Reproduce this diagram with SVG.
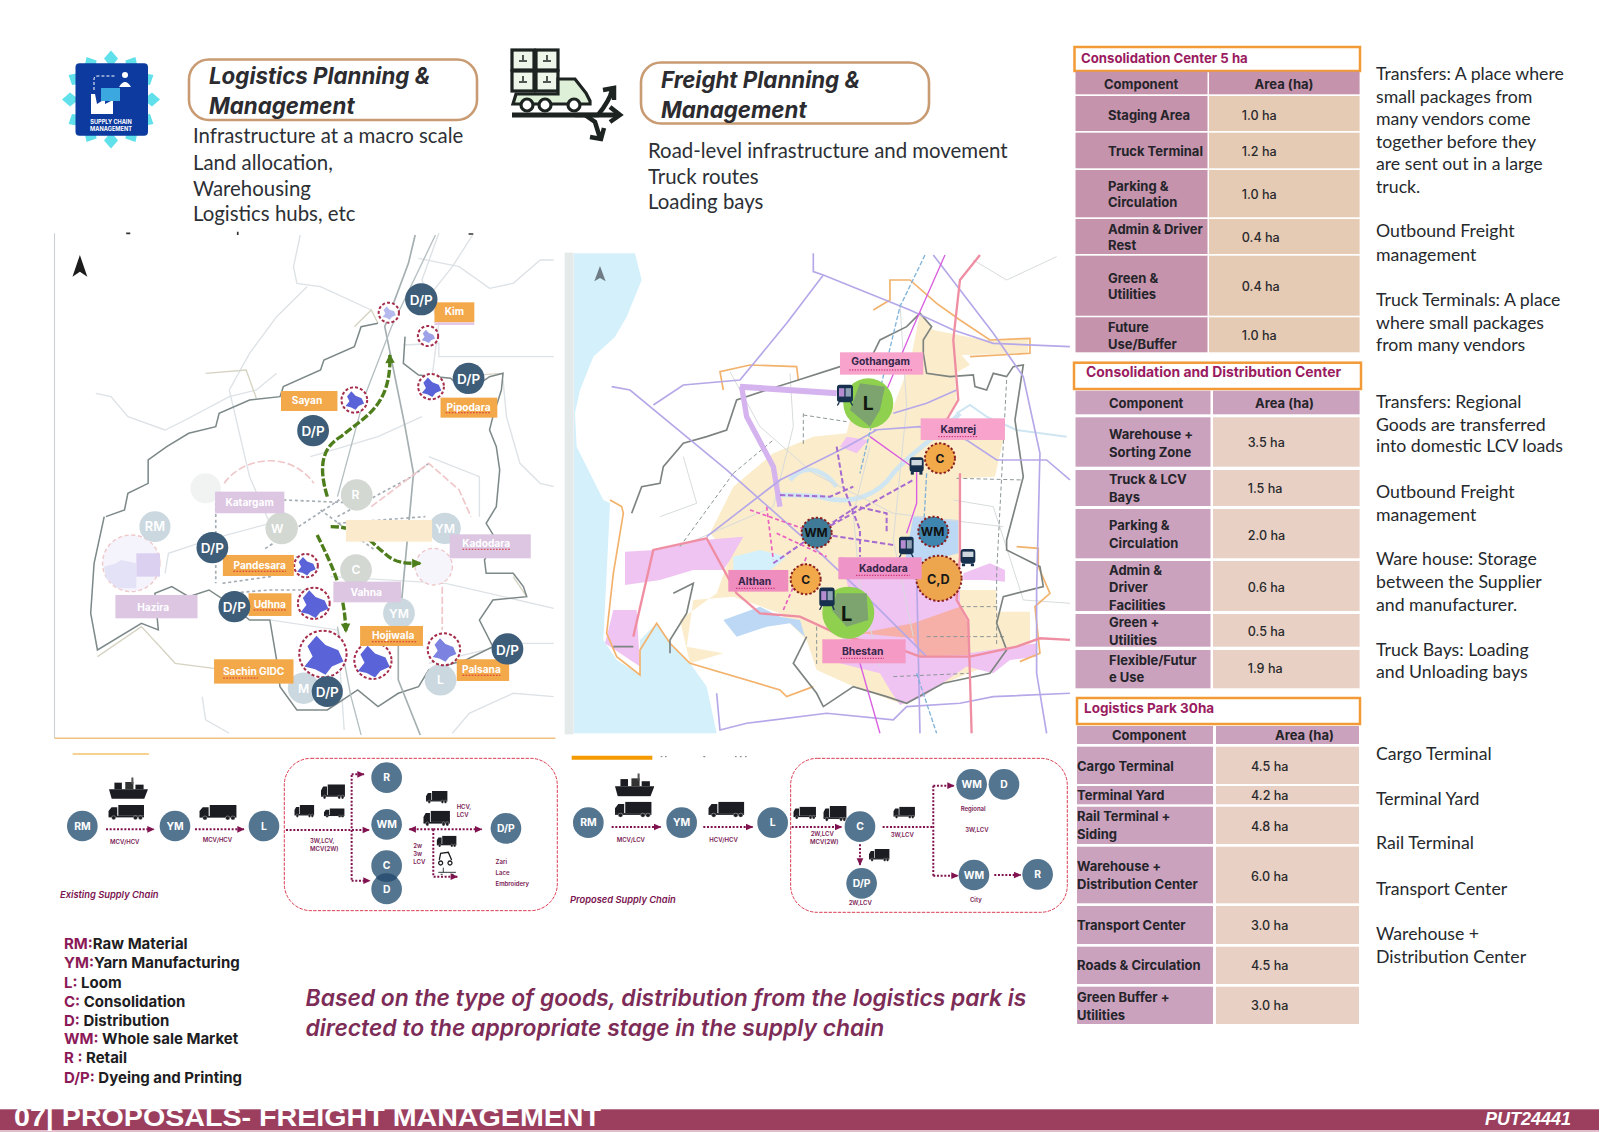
<svg xmlns="http://www.w3.org/2000/svg" width="1600" height="1132" viewBox="0 0 1600 1132">
<style>
text{font-family:"Inter","Liberation Sans",sans-serif}
.body{font-family:"Lato","Open Sans",sans-serif;font-size:20.4px;fill:#2c3035}
.side{font-family:"Lato","Open Sans",sans-serif;font-size:17.7px;fill:#26292d}
.hd{font-size:22.3px;font-weight:700;font-style:italic;fill:#2c2c30}
.hbox{fill:#fff;stroke:#c99b73;stroke-width:2.6}
.tbox{fill:#fff;stroke:#f29a35;stroke-width:2.5}
.tt{font-size:13.2px;font-weight:700;fill:#9a1b60}
.tl{font-size:13px;font-weight:700;fill:#24242a}
.ta{font-size:12.6px;font-weight:500;fill:#2a2a2e}
.lc{fill:#c593ab}.rc{fill:#e6cbb4}
.lc2{fill:#cba2bd}.rc2{fill:#e8d1c4}
.lg{font-size:15px;font-weight:700;fill:#1d1d22}
.lgp{fill:#8c1a58}
.big{font-size:22.85px;font-weight:600;font-style:italic;fill:#7d2c57}
.road{fill:none;stroke:#dde2e6;stroke-width:4}
.hw{fill:none;stroke:#a5afb1;stroke-width:5}
.bnd{fill:none;stroke:#7d8888;stroke-width:4.5}
.tan{fill:none;stroke:#d6d3c2;stroke-width:4}
.dg{fill:none;stroke:#a4adb4;stroke-width:5;stroke-dasharray:9 8}
.pk{fill:none;stroke:#efc7c9;stroke-width:5;stroke-dasharray:22 8}
.gr{fill:none;stroke:#4e7d1b;stroke-width:10;stroke-dasharray:24 7}
.dp{fill:#3d5d78}.ft{fill:#d3d8d3}.ft2{fill:#cbd8df}
.ct{fill:#fff;font-weight:600;text-anchor:middle}
.or{fill:#f3a84a}.pu{fill:#dcc6e2}
.ml{fill:#fff;font-size:30px;font-weight:700;text-anchor:middle}
.sq{stroke:#d5323a;stroke-width:3;stroke-dasharray:5 4;fill:none}
.ring{fill:#fff;stroke:#a52c4a;stroke-width:6;stroke-dasharray:9 6}
.blob{fill:#5b63d8}
.la{fill:none;stroke:#b6a8e8;stroke-width:5}
.ob{fill:none;stroke:#f2b26c;stroke-width:5}
.db{fill:none;stroke:#7d8480;stroke-width:5}
.rr{fill:none;stroke:#d7dbdc;stroke-width:3}
.pr{fill:none;stroke:#ef8ea3;stroke-width:7}
.mg{fill:none;stroke:#d95de0;stroke-width:4}
.bd{fill:none;stroke:#7fb3d9;stroke-width:4;stroke-dasharray:14 6}
.pd{fill:none;stroke:#a66ad0;stroke-width:6;stroke-dasharray:16 8}
.pd2{fill:none;stroke:#ea60c0;stroke-width:5;stroke-dasharray:12 8}
.gd{fill:none;stroke:#8c9698;stroke-width:3;stroke-dasharray:12 8}
.hub{stroke:#8a1f20;stroke-width:6;stroke-dasharray:7 6}
.pl{fill:#f7a3cc}
.pt{fill:#35254a;font-size:31px;font-weight:700;text-anchor:middle}
.sq2{stroke:#c0206a;stroke-width:3;stroke-dasharray:4 4;fill:none}
.cn{fill:#54758f}
.cnt{fill:#fff;font-size:31px;font-weight:700;text-anchor:middle}
.dash{fill:none;stroke:#d93a4f;stroke-width:3;stroke-dasharray:10 4}
.ar{fill:none;stroke:#80124f;stroke-width:6;stroke-dasharray:6 5}
.arh{fill:none;stroke:#80124f;stroke-width:6;stroke-dasharray:6 5;marker-end:url(#ah)}
.sl{fill:#7a1a55;font-size:18px;font-weight:600}
.cap{fill:#7a1450;font-size:28px;font-weight:600;font-style:italic}
.pet{fill:#5fe0ea}
</style>
<defs>
<marker id="ah" markerUnits="userSpaceOnUse" markerWidth="26" markerHeight="24" refX="22" refY="12" orient="auto"><path d="M2,2 L24,12 L2,22Z" fill="#80124f"/></marker>
<marker id="ga" markerUnits="userSpaceOnUse" markerWidth="36" markerHeight="36" refX="26" refY="18" orient="auto"><path d="M2,4 L30,18 L2,32Z" fill="#4e7d1b"/></marker>
<path id="blob" d="M-.6,-.3 L-.25,-.72 L.1,-.35 L.6,-.15 L.8,.3 L.35,.5 L.1,.82 L-.3,.6 L-.72,.5 L-.4,.1Z"/>
<path id="petal" d="M0,-49 L7,-41 L0,-32 L-7,-41Z"/>
<symbol id="truck" viewBox="0 0 100 46" preserveAspectRatio="none"><rect x="28" width="72" height="33" fill="#1c1d22"/><path d="M0,34 L0,19 L9,7 L25,7 L25,34Z" fill="#1c1d22"/><rect y="33" width="100" height="5" fill="#1c1d22"/><circle cx="15" cy="39" r="6" fill="#1c1d22" stroke="#fff"/><circle cx="76" cy="39" r="6" fill="#1c1d22" stroke="#fff"/><circle cx="90" cy="39" r="6" fill="#1c1d22" stroke="#fff"/></symbol>
<symbol id="ship" viewBox="0 0 115 65" preserveAspectRatio="none"><path d="M0,36 L115,36 L104,64 L8,64Z" fill="#1c1d22"/><rect x="16" y="16" width="22" height="20" fill="#1c1d22"/><rect x="48" y="14" width="24" height="22" fill="#333"/><rect x="66" y="0" width="6" height="20" fill="#555"/><rect x="78" y="22" width="24" height="14" fill="#1c1d22"/></symbol>
<symbol id="train" viewBox="0 0 50 62" preserveAspectRatio="none"><rect x="1" y="2" width="48" height="50" rx="8" fill="#16304d"/><rect x="7" y="12" width="16" height="24" fill="#b58ccf"/><rect x="27" y="12" width="16" height="24" fill="#8fa3b5"/><path d="M8,52 L2,62 M42,52 L48,62" stroke="#16304d" stroke-width="4"/></symbol>
<symbol id="bus" viewBox="0 0 50 55" preserveAspectRatio="none"><rect x="2" y="2" width="46" height="44" rx="10" fill="#16304d"/><rect x="8" y="10" width="34" height="16" fill="#cfd8de"/><rect x="6" y="46" width="10" height="8" fill="#16304d"/><rect x="34" y="46" width="10" height="8" fill="#16304d"/></symbol>
</defs>
<rect width="1600" height="1132" fill="#fff"/>

<g id="logo">
<g transform="translate(111 99.5)">
<use class="pet" href="#petal"/><use class="pet" href="#petal" transform="rotate(30)"/><use class="pet" href="#petal" transform="rotate(60)"/><use class="pet" href="#petal" transform="rotate(90)"/><use class="pet" href="#petal" transform="rotate(120)"/><use class="pet" href="#petal" transform="rotate(150)"/><use class="pet" href="#petal" transform="rotate(180)"/><use class="pet" href="#petal" transform="rotate(210)"/><use class="pet" href="#petal" transform="rotate(240)"/><use class="pet" href="#petal" transform="rotate(270)"/><use class="pet" href="#petal" transform="rotate(300)"/><use class="pet" href="#petal" transform="rotate(330)"/>
</g>
<rect x="75.5" y="63.3" width="72.5" height="72.4" rx="4" fill="#0d3a9e"/>
<path d="M91,114 L91,94 L95,94 L97,104 L105,99 L105,104 L113,100 L113,114Z" fill="#fff"/>
<rect x="101" y="88" width="19" height="13" fill="#3ba9e0"/>
<circle cx="125" cy="75" r="3" fill="#fff"/><path d="M119,87 Q125,77 131,87Z" fill="#fff"/>
<path d="M94,90 L94,79 Q94,76 98,76 L116,76" fill="none" stroke="#fff" stroke-width="1" stroke-dasharray="3 2"/>
<text x="111" y="124" text-anchor="middle" font-size="5.6" font-weight="700" fill="#fff">SUPPLY CHAIN</text>
<text x="111" y="131" text-anchor="middle" font-size="5.6" font-weight="700" fill="#fff">MANAGEMENT</text>
</g>

<g id="head-logistics">
<rect class="hbox" x="189" y="59.5" width="288" height="60.5" rx="20"/>
<text class="hd" x="209" y="84">Logistics Planning &amp;</text>
<text class="hd" x="209" y="113.5">Management</text>
<text class="body" x="193" y="143.3">Infrastructure at a macro scale</text>
<text class="body" x="193" y="170">Land allocation,</text>
<text class="body" x="193" y="195.7">Warehousing</text>
<text class="body" x="193" y="221">Logistics hubs, etc</text>
</g>

<g id="truck-icon" fill="none" stroke="#1c2320" stroke-width="3.2">
<rect x="512" y="50" width="22" height="20" fill="#eef6ea"/><rect x="536" y="50" width="22" height="20" fill="#eef6ea"/>
<rect x="512" y="71" width="22" height="20" fill="#eef6ea"/><rect x="536" y="71" width="22" height="20" fill="#eef6ea"/>
<path d="M519,61h8M543,61h8M519,82h8M543,82h8M523,55v5M547,55v5M523,76v5M547,76v5" stroke-width="1.5"/>
<path d="M558,79 L575,79 L586,93 L590,101 L590,104 L513,104 L516,94 L558,94Z" fill="#dff0d8"/>
<circle cx="527" cy="105" r="6" fill="#fff"/><circle cx="545" cy="105" r="6" fill="#fff"/><circle cx="574" cy="105" r="6" fill="#fff"/>
<path d="M512,115 L618,115" stroke-width="5"/>
<path d="M575,115 L598,115 Q610,100 612,90 M603,90 L614,88 L614,100" stroke-width="4.5"/>
<path d="M610,107 L620,115 L610,122" stroke-width="4.5"/>
<path d="M585,115 L595,122 L600,138 M590,137 L601,139 L604,128" stroke-width="4.5"/>
</g>

<g id="head-freight">
<rect class="hbox" x="641" y="62.5" width="288" height="61" rx="20"/>
<text class="hd" x="661" y="88">Freight Planning &amp;</text>
<text class="hd" x="661" y="118">Management</text>
<text class="body" x="648" y="158">Road-level infrastructure and movement</text>
<text class="body" x="648" y="183.5">Truck routes</text>
<text class="body" x="648" y="209">Loading bays</text>
</g>

<g id="map-logistics" transform="translate(40 230) scale(.338 .3333)">
<path d="M43,10V1525" stroke="#c9cfd2" stroke-width="3"/>
<path d="M43,1525H1525" stroke="#f0c080" stroke-width="5"/>
<path d="M255,10h12M585,5v10M1268,12h14" stroke="#333" stroke-width="5"/>
<g class="roads">
<path class="road" d="M770,15 L750,110 L760,160 L830,170 L980,240"/>
<path class="road" d="M1120,85 L1240,110 L1330,175 L1400,160 L1480,90 L1520,90"/>
<path class="road" d="M165,490 L210,500 L260,560 L370,600 L430,570 L560,500 L640,480 L700,430"/>
<path class="road" d="M790,170 L700,260 L620,370 L560,480 L620,740 L680,880"/>
<path class="road" d="M1180,10 L1130,150 L1180,280 L1160,440"/>
<path class="road" d="M1280,15 L1220,110 L1150,200"/>
<path class="road" d="M1075,345 L1180,340 L1180,380 L1520,380"/>
<path class="road" d="M1370,450 L1380,560 L1420,700 L1480,760 L1520,770"/>
<path class="road" d="M800,680 L1000,620 L1130,560"/>
<path class="road" d="M680,880 L500,930 L380,970 L370,1030"/>
<path class="road" d="M860,1040 L1200,1060 L1520,1135"/>
<path class="road" d="M1150,1300 L1400,1240 L1520,1240"/>
<path class="road" d="M480,1400 L490,1470 L560,1510"/>
<path class="road" d="M1220,1510 L1270,1450 L1400,1390 L1520,1400"/>
<path class="road" d="M680,1170 L880,1200 L900,1500"/>
<path class="road" d="M1150,680 L1300,740 L1300,860"/>
<path class="tan" d="M490,430 L610,420 L640,505"/>
<path class="tan" d="M930,290 L980,240 L1000,280"/>
<path class="tan" d="M1220,440 L1370,430"/>
<path class="tan" d="M1440,1100 L1400,1040"/>
<path class="tan" d="M170,1280 L300,1190 L400,1300 L700,1340"/>
</g>
<path class="bnd" d="M195,860 L250,840 L260,790 L320,760 L320,690 L375,650 L440,610 L520,590 L530,550 L620,510 L710,500 L720,470 L830,420 L840,390 L930,350 L950,290 L1000,280"/>
<path class="bnd" d="M1080,320 L1075,400 L1120,435 L1215,445 L1260,490 L1330,440 L1370,430 L1365,480 L1340,560 L1330,600 L1350,650 L1360,720 L1350,830 L1320,880 L1350,930 L1315,990 L1320,1030 L1400,1030 L1430,1070 L1440,1100 L1340,1110 L1300,1170 L1340,1250 L1260,1290 L1150,1320 L1120,1370 L1060,1390 L1000,1430 L940,1380 L880,1420 L850,1440 L760,1440 L710,1370 L700,1290 L680,1170 L620,1170 L560,1120 L500,1080 L440,1100 L390,1070 L340,1090 L350,1200 L300,1180 L170,1260 L150,1150 L160,1000 L190,860"/>
<path class="hw" d="M1110,15 L1090,100 L1020,290 L1080,590 L1105,730 L1060,1220 L1060,1350 L1125,1515"/>
<path d="M1170,15 L1040,290 L960,500 L880,800" fill="none" stroke="#b5bfc2" stroke-width="4"/>
<path d="M880,1190 L920,1400 L950,1515" fill="none" stroke="#b5bfc2" stroke-width="4"/>
<path class="dg" d="M720,810 L960,820"/><path class="dg" d="M880,880 L1140,860"/><path class="dg" d="M540,1060 L680,1040 L760,980"/><path class="dg" d="M560,1090 L680,1080 L790,1080"/><path class="dg" d="M900,800 L660,960"/><path class="dg" d="M830,840 L990,960"/><path class="dg" d="M520,750 L520,1060"/><path class="dg" d="M1150,700 L1100,740 L880,860"/>
<path class="pk" d="M545,760 C600,680 740,660 810,760"/>
<path class="pk" d="M980,830 L1150,700 L1240,780 L1275,860"/>
<path class="pk" d="M1190,1040 L1190,1200"/>
<circle cx="1165" cy="1010" r="55" fill="#f7f5fc" stroke="#efc7c9" stroke-width="4" stroke-dasharray="12 8"/>
<g id="faded-left">
<circle cx="270" cy="1000" r="85" fill="#f5f3fb" stroke="#efc7c9" stroke-width="4" stroke-dasharray="12 8"/>
<rect x="285" y="970" width="70" height="70" fill="#dcd0f0"/>
<path d="M190,1010 L225,1000 L240,990 L285,1000 L285,1075 L230,1075 L195,1045Z" fill="#e3e2f6"/>
</g>
<path class="gr" d="M850,800 C820,700 840,650 890,620 C960,560 1040,530 1035,375" marker-end="url(#ga)"/>
<path class="gr" d="M860,890 C950,890 970,930 1020,970 C1050,1000 1080,1000 1125,1000" marker-end="url(#ga)"/>
<path class="gr" d="M820,915 C870,1020 900,1080 905,1205" marker-end="url(#ga)"/>
<g id="m1-faded">
<circle cx="490" cy="775" r="45" fill="#f1f3f3"/>
<circle class="ft" cx="937" cy="795" r="47"/><text class="ct" x="933" y="808" font-size="36">R</text>
<circle class="ft" cx="715" cy="895" r="48"/><text class="ct" x="702" y="908" font-size="36">W</text>
<circle class="ft" cx="935" cy="1020" r="47"/><text class="ct" x="935" y="1033" font-size="36">C</text>
<circle class="ft2" cx="340" cy="890" r="46"/><text class="ct" x="340" y="904" font-size="38">RM</text>
<circle class="ft2" cx="1198" cy="895" r="47"/><text class="ct" x="1198" y="908" font-size="36">YM</text>
<circle class="ft2" cx="1062" cy="1150" r="47"/><text class="ct" x="1062" y="1163" font-size="36">YM</text>
<circle class="ft2" cx="1185" cy="1350" r="47"/><text class="ct" x="1185" y="1363" font-size="36">L</text>
<circle class="ft2" cx="780" cy="1375" r="47"/><text class="ct" x="780" y="1388" font-size="36">M</text>
</g>
<g id="m1-hubs">
<circle class="ring" cx="1032" cy="248" r="30"/><use class="blob" href="#blob" transform="translate(1032 248) scale(26)" opacity=".45"/>
<circle class="ring" cx="1148" cy="318" r="30"/><use class="blob" href="#blob" transform="translate(1148 318) scale(26)" opacity=".6"/>
<circle class="ring" cx="1157" cy="470" r="38"/><use class="blob" href="#blob" transform="translate(1157 470) scale(38)"/>
<circle class="ring" cx="930" cy="510" r="38"/><use class="blob" href="#blob" transform="translate(930 510) scale(36)"/>
<circle class="ring" cx="787" cy="1007" r="35"/><use class="blob" href="#blob" transform="translate(787 1007) scale(36)"/>
<circle class="ring" cx="810" cy="1120" r="47"/><use class="blob" href="#blob" transform="translate(810 1120) scale(54)"/>
<circle class="ring" cx="837" cy="1272" r="70"/><use class="blob" href="#blob" transform="translate(837 1272) scale(76)"/>
<circle class="ring" cx="985" cy="1292" r="55"/><use class="blob" href="#blob" transform="translate(985 1292) scale(62)"/>
<circle class="ring" cx="1195" cy="1258" r="48"/><use class="blob" href="#blob" transform="translate(1195 1258) scale(46)" opacity=".8"/>
</g>
<g id="m1-labels">
<rect class="or" x="1167" y="217" width="118" height="60"/><rect x="1167" y="277" width="118" height="8" fill="#e3c9e6"/><text class="ml" x="1226" y="256">Kim</text>
<rect class="or" x="713" y="483" width="167" height="60"/><text class="ml" x="790" y="523">Sayan</text>
<rect class="or" x="1185" y="503" width="168" height="60"/><text class="ml" x="1268" y="544">Pipodara</text><path class="sq" d="M1200,548H1335"/>
<rect class="or" x="541" y="975" width="210" height="63"/><text class="ml" x="650" y="1017">Pandesara</text><path class="sq" d="M572,1024H728"/>
<rect class="or" x="617" y="1090" width="127" height="68"/><text class="ml" x="680" y="1135">Udhna</text><path class="sq" d="M632,1140H728"/>
<rect class="or" x="947" y="1188" width="186" height="60"/><text class="ml" x="1045" y="1227">Hojiwala</text><path class="sq" d="M982,1235H1115"/>
<rect class="or" x="515" y="1288" width="235" height="73"/><text class="ml" x="632" y="1336">Sachin GIDC</text><path class="sq" d="M542,1344H645"/>
<rect class="or" x="1233" y="1288" width="155" height="65"/><text class="ml" x="1306" y="1330">Palsana</text><path class="sq" d="M1250,1336H1362"/>
<rect class="pu" x="518" y="785" width="205" height="65"/><text class="ml" x="620" y="827">Katargam</text>
<rect class="pu" x="1212" y="913" width="240" height="72"/><text class="ml" x="1320" y="950">Kadodara</text><path class="sq" d="M1250,958H1392"/>
<rect class="pu" x="223" y="1095" width="243" height="70"/><text class="ml" x="335" y="1143">Hazira</text>
<rect class="pu" x="868" y="1055" width="200" height="62"/><text class="ml" x="965" y="1098">Vahna</text>
<rect x="905" y="870" width="255" height="65" fill="#fbeacb"/>
</g>
<g id="m1-dp">
<circle class="dp" cx="1128" cy="208" r="48"/><text class="ct" x="1128" y="225" font-size="40">D/P</text>
<circle class="dp" cx="1268" cy="445" r="47"/><text class="ct" x="1268" y="462" font-size="40">D/P</text>
<circle class="dp" cx="808" cy="602" r="47"/><text class="ct" x="808" y="619" font-size="40">D/P</text>
<circle class="dp" cx="510" cy="953" r="47"/><text class="ct" x="510" y="970" font-size="40">D/P</text>
<circle class="dp" cx="575" cy="1130" r="47"/><text class="ct" x="575" y="1147" font-size="40">D/P</text>
<circle class="dp" cx="850" cy="1385" r="46"/><text class="ct" x="850" y="1402" font-size="40">D/P</text>
<circle class="dp" cx="1383" cy="1257" r="47"/><text class="ct" x="1383" y="1274" font-size="40">D/P</text>
</g>
<path d="M118,75 L140,140 L118,125 L96,140Z" fill="#1c1c1c"/>
</g>

<g id="map-freight" transform="translate(560 240) scale(.3333)">
<rect x="14" y="38" width="27" height="1445" fill="#e4e9e9"/>
<path d="M42,40 L225,40 L245,120 L200,230 L165,290 L100,350 L60,450 L45,520 L50,620 L90,700 L130,780 L150,790 L140,1000 L130,1200 L170,1260 L240,1305 L240,1200 L290,1150 L330,1210 L390,1270 L440,1340 L470,1480 L42,1480Z" fill="#d3f0fb"/>
<path d="M450,880 L520,740 L640,640 L760,590 L860,580 L870,540 L1000,500 L1050,370 L1080,220 L1120,270 L1270,300 L1405,295 L1405,340 L1205,345 L1230,375 L1185,400 L1190,490 L1160,530 L1330,600 L1305,710 L1200,715 L1200,1050 L1310,1050 L1310,1115 L1410,1115 L1410,1230 L1225,1300 L1060,1370 L1020,1390 L880,1340 L770,1290 L740,1200 L660,1120 L520,1070 L400,1080 L380,1220 L490,1240 L390,1270 L360,1140 L470,1060 L510,950Z" fill="#fbeccb"/>
<path d="M195,935 L285,930 L430,900 L550,890 L510,960 L490,990 L400,990 L300,1020 L195,1035Z" fill="#efc3f2"/>
<path d="M860,590 L925,600 L890,640 L840,620Z" fill="#efc3f2"/>
<path d="M840,950 L1200,1000 L1200,1100 L1225,1150 L1225,1240 L1430,1210 L1430,1250 L1350,1260 L1300,1300 L1220,1280 L1090,1370 L1020,1395 L990,1350 L960,1300 L840,1270 L800,1220 L900,1170Z" fill="#efc3f2"/>
<path d="M160,1110 L230,1110 L240,1280 L135,1210Z" fill="#efc3f2"/>
<path d="M1210,1000 L1290,970 L1335,990 L1335,1025 L1280,1020 L1210,1020Z" fill="#efc3f2"/>
<path d="M900,1180 L1060,1150 L1200,1100 L1225,1150 L1225,1245 L1080,1250 L1060,1195Z" fill="#f6b0a8"/>
<path d="M1060,830 L1195,840 L1195,940 L1080,970 L1035,960Z" fill="#bcd8f5"/>
<path d="M490,1140 L600,1100 L660,1130 L720,1140 L735,1190 L690,1150 L620,1160 L530,1190Z" fill="#bcd8f5"/>
<path d="M520,950 L600,930 L680,950 L620,1000 L520,990Z" fill="#d3f0fb"/>
<path d="M1200,520 C1120,600 1050,640 1000,700 C960,760 880,800 780,770 C700,760 660,770 650,760 M690,720 C740,660 800,700 830,740" fill="none" stroke="#cfe6f2" stroke-width="14"/>
<path d="M1190,520 L1230,495 L1280,530 L1370,570 L1520,590" fill="none" stroke="#cfe6f2" stroke-width="6"/>
<path class="rr" d="M510,395 L600,560 L760,700 L1000,820 L1330,860"/><path class="rr" d="M690,400 L700,560 L640,800"/><path class="rr" d="M930,620 L880,820 L900,1040 L960,1280"/><path class="rr" d="M360,920 L640,800"/><path class="rr" d="M370,650 L410,790 L300,830"/><path class="rr" d="M1020,190 L1040,500 L1000,900 L1060,1190"/><path class="rr" d="M1180,780 L1300,800 L1390,1080 L1530,1090"/><path class="rr" d="M1240,60 L1340,120 L1490,50"/>
<path class="gd" d="M360,920 L520,700 M520,700 L640,600"/><path class="gd" d="M1340,420 L1310,1000"/><path class="gd" d="M1190,715 L1390,720"/><path class="gd" d="M1100,1190 L1340,1190"/><path class="gd" d="M770,1160 L770,1280"/><path class="gd" d="M1000,1310 L1230,1300"/><path class="gd" d="M730,520 L730,620 M730,525 L860,545"/><path class="gd" d="M1200,1100 L1320,1100 M1310,1000 L1310,1220"/>
<path class="ob" d="M940,210 L990,180 L990,120 L1050,120 L1130,190 L1200,240 L1290,300 L1410,295 L1410,340 L1230,350"/>
<path class="ob" d="M490,450 L480,395 L570,375 L710,380 L715,420"/>
<path class="ob" d="M150,780 L185,800 L190,820 L160,1000 L140,1180 L170,1250 L240,1305 L240,1230 L290,1150 L330,1210 L390,1270 L660,1350 L680,1370 L760,1340"/>
<path class="ob" d="M1370,920 L1435,925 L1435,980 L1470,1060 L1425,1100 L1440,1240 L1380,1265"/>
<path class="db" d="M215,820 L245,740 L300,730 L310,680 L370,610 L440,590 L500,570 L530,480 L620,450 L715,420 L840,380 L940,340 L960,300 L1040,260 L1080,220 L1115,260 L1090,300 L1090,340 L1100,400 L1170,410 L1240,405 L1245,440 L1280,450 L1300,400 L1340,410 L1360,380 L1390,375 L1365,540 L1390,710 L1340,900 L1340,930 L1440,980 L1450,1040 L1330,1070 L1310,1150 L1340,1230 L1290,1300 L1150,1330 L1040,1390 L980,1370 L880,1340 L790,1400 L770,1360 L700,1270 L740,1190"/>
<path class="db" d="M340,1060 L400,1030 L380,1120 L330,1200 L330,1240 M160,1220 L220,1220"/>
<path d="M540,440 L830,460" fill="none" stroke="#d4b3ee" stroke-width="18"/>
<path d="M545,440 L560,530 L640,680 L660,800" fill="none" stroke="#d4b3ee" stroke-width="16"/>
<path class="la" d="M760,40 L760,95 L790,105 L1050,210 L1180,270 L1300,310 L1530,320"/>
<path class="la" d="M790,105 L680,250 L540,420 L370,435 L280,495"/>
<path class="la" d="M155,440 L210,450 L500,690 L760,920 L950,1100 L1100,1250"/>
<path class="la" d="M1120,45 L1300,280 L1390,410 L1440,640 L1430,1050 L1430,1300 L1460,1480"/>
<path class="la" d="M1000,520 L1100,490 L1190,450"/>
<path class="la" d="M940,570 L1080,560 L1220,600 L1310,660 L1460,660 L1530,720"/>
<path class="la" d="M440,890 L660,720 L860,620 L950,570"/>
<path class="la" d="M470,1360 L480,1470 L560,1450 L800,1420 L1000,1440 L1040,1400 L1200,1390 L1300,1370 L1530,1360"/>
<path class="la" d="M1070,1000 L1080,1480"/>
<path class="pr" d="M1260,45 L1200,120 L1180,300 L1195,480 L1160,540"/>
<path class="pr" d="M1200,700 L1200,950 L1190,1080 L1225,1140 L1235,1480"/>
<path class="pr" d="M220,1190 L280,930 L440,895 L530,1060 L600,1120 L720,1130 L850,1190 L1000,1220 L1080,1250 L1230,1250 L1370,1220 L1440,1195 L1530,1200"/>
<path class="mg" d="M1155,45 L1060,260 L980,450"/>
<path class="mg" d="M930,590 L1070,690 L1070,790 L1040,880"/>
<path class="mg" d="M900,1270 L960,1480"/>
<path class="bd" d="M1095,45 L1020,200 L900,700"/>
<path class="bd" d="M1100,700 L1090,880"/>
<path class="bd" d="M1070,1300 L1130,1480"/>
<path class="pd" d="M830,620 L850,740 L900,870 L900,950"/>
<path class="pd" d="M660,765 L810,770 L880,740"/>
<path class="pd" d="M770,880 L1060,720"/>
<path class="pd" d="M770,880 L1000,915"/>
<path class="pd" d="M640,970 L770,880 L890,800 L980,820 L980,880"/>
<path class="pd2" d="M620,800 L640,960 M570,810 L770,880 M670,1110 L740,950 M650,880 L800,950"/>
<g id="m2-hubs">
<circle cx="925" cy="490" r="75" fill="#8fd14f"/><path d="M900,430 L975,440 L960,510 L930,560 L870,510Z" fill="#7da46f"/><text x="925" y="510" text-anchor="middle" font-size="58" font-weight="700" fill="#101810">L</text>
<circle cx="865" cy="1118" r="78" fill="#8fd14f"/><path d="M830,1060 L920,1060 L925,1140 L860,1160 L815,1110Z" fill="#7da46f"/><text x="860" y="1142" text-anchor="middle" font-size="60" font-weight="700" fill="#101810">L</text>
<circle class="hub" cx="1140" cy="655" r="45" fill="#f2a94a"/><text x="1140" y="668" text-anchor="middle" font-size="36" font-weight="700" fill="#1a1a1a">C</text>
<circle class="hub" cx="770" cy="878" r="45" fill="#3f7a96"/><text x="768" y="892" text-anchor="middle" font-size="36" font-weight="700" fill="#111">WM</text>
<circle class="hub" cx="1120" cy="875" r="45" fill="#3e86b0"/><text x="1118" y="889" text-anchor="middle" font-size="36" font-weight="700" fill="#111">WM</text>
<circle class="hub" cx="737" cy="1018" r="45" fill="#f2a94a"/><text x="737" y="1031" text-anchor="middle" font-size="36" font-weight="700" fill="#1a1a1a">C</text>
<circle class="hub" cx="1137" cy="1015" r="68" fill="#eea64e"/><text x="1135" y="1032" text-anchor="middle" font-size="38" font-weight="700" fill="#1a1a1a">C,D</text>
</g>
<g id="m2-icons">
<use href="#train" x="830" y="432" width="50" height="65"/>
<use href="#bus" x="1047" y="650" width="46" height="55"/>
<use href="#train" x="1016" y="888" width="46" height="65"/>
<use href="#bus" x="1200" y="925" width="48" height="55"/>
<use href="#train" x="777" y="1040" width="48" height="70"/>
</g>
<g id="m2-labels">
<rect class="pl" x="840" y="337" width="250" height="67"/><text class="pt" x="962" y="375">Gothangam</text><path class="sq2" d="M868,390H1060"/>
<rect class="pl" x="1082" y="535" width="253" height="65"/><text class="pt" x="1195" y="580">Kamrej</text><path class="sq2" d="M1135,590H1252"/>
<rect x="835" y="952" width="250" height="66" fill="#ef94c8"/><text class="pt" x="970" y="997">Kadodara</text><path class="sq2" d="M888,1006H1050"/>
<rect x="505" y="990" width="180" height="65" fill="#ef8dbf"/><text class="pt" x="584" y="1036">Althan</text><path class="sq2" d="M528,1045H645"/>
<rect x="787" y="1198" width="250" height="72" fill="#f59ac5"/><text class="pt" x="908" y="1246">Bhestan</text><path class="sq2" d="M842,1255H972"/>
</g>
<path d="M120,78 L137,124 L120,114 L103,124Z" fill="#6f7c85"/>
</g>

<g id="chain-existing" transform="translate(50 745) scale(.3333)">
<path d="M68,27H297" stroke="#f3c36e" stroke-width="5"/>
<rect class="dash" x="703" y="40" width="819" height="457" rx="80"/>
<g class="connectors">
<path class="arh" d="M168,253H312"/>
<path class="arh" d="M435,253H582"/>
<path class="arh" d="M708,255H958"/>
<path class="ar" d="M905,90V405"/>
<path class="arh" d="M905,88H942"/>
<path class="arh" d="M905,407H960"/>
<path class="arh" d="M1150,253H1078"/>
<path class="arh" d="M1150,253H1295"/>
<path class="arh" d="M1150,253V395H1222"/>
</g>
<g id="ex-rm"><circle class="cn" cx="97" cy="243" r="46"/><text class="cnt" x="97" y="254">RM</text></g>
<g id="ex-ym"><circle class="cn" cx="375" cy="243" r="46"/><text class="cnt" x="375" y="254">YM</text></g>
<g id="ex-l"><circle class="cn" cx="642" cy="243" r="46"/><text class="cnt" x="642" y="254">L</text></g>
<g id="ex-r"><circle class="cn" cx="1010" cy="98" r="46"/><text class="cnt" x="1010" y="109">R</text></g>
<g id="ex-wm"><circle class="cn" cx="1010" cy="238" r="46"/><text class="cnt" x="1010" y="249">WM</text></g>
<g id="ex-c"><circle class="cn" cx="1010" cy="362" r="46"/><text class="cnt" x="1010" y="373">C</text></g>
<g id="ex-d"><circle class="cn" cx="1010" cy="432" r="46"/><path d="M978,398 A46,46 0 0 1 1042,398 A46,46 0 0 1 978,398Z" fill="#2e5273"/><text class="cnt" x="1010" y="443">D</text></g>
<g id="ex-dp"><circle class="cn" cx="1368" cy="250" r="46"/><text class="cnt" x="1368" y="261">D/P</text></g>
<use href="#ship" x="177" y="97" width="117" height="65"/>
<use href="#truck" x="175" y="180" width="107" height="45"/>
<use href="#truck" x="448" y="180" width="112" height="46"/>
<use href="#truck" transform="translate(813 118)" width="72" height="45"/>
<use href="#truck" x="733" y="180" width="60" height="38"/>
<use href="#truck" x="822" y="190" width="62" height="28"/>
<use href="#truck" x="1128" y="138" width="65" height="38"/>
<use href="#truck" x="1120" y="197" width="80" height="47"/>
<use href="#truck" x="1160" y="272" width="60" height="35"/>
<path d="M1168,345 L1172,325 L1195,322 L1205,345 M1172,348a6,6 0 1 0 .1,0M1200,348a6,6 0 1 0 .1,0" fill="none" stroke="#1c1d22" stroke-width="4"/>
<path d="M1165,382 L1218,382 M1180,368 L1180,382 M1172,388h6M1205,388h6" fill="none" stroke="#33393d" stroke-width="3"/>
<text class="sl" x="180" y="297">MCV/HCV</text>
<text class="sl" x="458" y="290">MCV/HCV</text>
<text class="sl" x="780" y="293">3W,LCV,</text><text class="sl" x="780" y="318">MCV(2W)</text>
<text class="sl" x="1220" y="192">HCV,</text><text class="sl" x="1220" y="216">LCV</text>
<text class="sl" x="1090" y="310">2w</text><text class="sl" x="1090" y="333">3w</text><text class="sl" x="1090" y="357">LCV</text>
<text class="sl" x="1337" y="358">Zari</text><text class="sl" x="1337" y="390">Lace</text><text class="sl" x="1337" y="422">Embroidery</text>
<text class="cap" x="30" y="458">Existing Supply Chain</text>
</g>

<g id="chain-proposed" transform="translate(560 745) scale(.3333)">
<path d="M35,38H277" stroke="#f59a00" stroke-width="12"/>
<path d="M302,35h5M315,35h5M430,35h6M525,35h5M540,35h5M555,35h5" stroke="#777" stroke-width="3"/>
<rect class="dash" x="692" y="40" width="830" height="462" rx="80"/>
<g class="connectors">
<path class="arh" d="M155,246H302"/>
<path class="arh" d="M430,246H578"/>
<path class="arh" d="M695,246H845"/>
<path class="ar" d="M968,246H1120"/>
<path class="ar" d="M1120,122V392"/>
<path class="arh" d="M1120,122H1182"/>
<path class="arh" d="M1120,392H1194"/>
<path class="arh" d="M1303,390H1382"/>
<path class="arh" d="M900,298V360"/>
</g>
<g id="pr-rm"><circle class="cn" cx="85" cy="233" r="46"/><text class="cnt" x="85" y="244">RM</text></g>
<g id="pr-ym"><circle class="cn" cx="365" cy="233" r="46"/><text class="cnt" x="365" y="244">YM</text></g>
<g id="pr-l"><circle class="cn" cx="638" cy="233" r="46"/><text class="cnt" x="638" y="244">L</text></g>
<g id="pr-c"><circle class="cn" cx="900" cy="245" r="46"/><text class="cnt" x="900" y="256">C</text></g>
<g id="pr-dp"><circle class="cn" cx="905" cy="415" r="46"/><text class="cnt" x="905" y="426">D/P</text></g>
<g id="pr-wm1"><circle class="cn" cx="1235" cy="118" r="46"/><text class="cnt" x="1235" y="129">WM</text></g>
<g id="pr-d"><circle class="cn" cx="1332" cy="118" r="46"/><text class="cnt" x="1332" y="129">D</text></g>
<g id="pr-wm2"><circle class="cn" cx="1242" cy="390" r="46"/><text class="cnt" x="1242" y="401">WM</text></g>
<g id="pr-r"><circle class="cn" cx="1433" cy="388" r="46"/><text class="cnt" x="1433" y="399">R</text></g>
<use href="#ship" x="165" y="85" width="118" height="70"/>
<use href="#truck" x="165" y="170" width="110" height="48"/>
<use href="#truck" x="445" y="170" width="108" height="48"/>
<use href="#truck" x="700" y="185" width="68" height="38"/>
<use href="#truck" x="790" y="183" width="70" height="47"/>
<use href="#truck" x="1000" y="185" width="65" height="36"/>
<use href="#truck" x="927" y="312" width="62" height="38"/>
<text class="sl" x="170" y="290">MCV/LCV</text>
<text class="sl" x="448" y="290">HCV/HCV</text>
<text class="sl" x="752" y="273">2W,LCV</text><text class="sl" x="750" y="298">MCV(2W)</text>
<text class="sl" x="992" y="275">3W,LCV</text>
<text class="sl" x="1216" y="262">3W,LCV</text>
<text class="sl" x="1202" y="198">Regional</text>
<text class="sl" x="1230" y="472">City</text>
<text class="sl" x="866" y="481">2W,LCV</text>
<text class="cap" x="30" y="473">Proposed Supply Chain</text>
</g>

<g id="legend">
<text class="lg" x="64" y="949"><tspan class="lgp">RM:</tspan>Raw Material</text>
<text class="lg" x="64" y="968.3"><tspan class="lgp">YM:</tspan>Yarn Manufacturing</text>
<text class="lg" x="64" y="987.7"><tspan class="lgp">L:</tspan> Loom</text>
<text class="lg" x="64" y="1006.7"><tspan class="lgp">C:</tspan> Consolidation</text>
<text class="lg" x="64" y="1025.7"><tspan class="lgp">D:</tspan> Distribution</text>
<text class="lg" x="64" y="1044.3"><tspan class="lgp">WM:</tspan> Whole sale Market</text>
<text class="lg" x="64" y="1063.3"><tspan class="lgp">R :</tspan> Retail</text>
<text class="lg" x="64" y="1082.7"><tspan class="lgp">D/P:</tspan> Dyeing and Printing</text>
</g>
<g id="statement">
<text class="big" x="305.6" y="1006">Based on the type of goods, distribution from the logistics park is</text>
<text class="big" x="305.6" y="1035.7">directed to the appropriate stage in the supply chain</text>
</g>

<g id="table-consolidation">
<rect class="tbox" x="1074.5" y="47" width="285.5" height="24"/>
<text class="tt" x="1081" y="63">Consolidation Center 5 ha</text>
<rect class="lc" x="1075.5" y="71.7" width="132" height="22.6"/><rect class="lc" x="1209" y="71.7" width="150.6" height="22.6"/>
<text class="tl" x="1104" y="89">Component</text><text class="tl" x="1254.6" y="89">Area (ha)</text>
<rect class="lc" x="1075.5" y="96" width="132" height="35"/><rect class="rc" x="1209" y="96" width="150.6" height="35"/>
<rect class="lc" x="1075.5" y="132.7" width="132" height="35.6"/><rect class="rc" x="1209" y="132.7" width="150.6" height="35.6"/>
<rect class="lc" x="1075.5" y="170" width="132" height="47.3"/><rect class="rc" x="1209" y="170" width="150.6" height="47.3"/>
<rect class="lc" x="1075.5" y="219" width="132" height="35"/><rect class="rc" x="1209" y="219" width="150.6" height="35"/>
<rect class="lc" x="1075.5" y="255.7" width="132" height="60"/><rect class="rc" x="1209" y="255.7" width="150.6" height="60"/>
<rect class="lc" x="1075.5" y="317.3" width="132" height="35"/><rect class="rc" x="1209" y="317.3" width="150.6" height="35"/>
<text class="tl" x="1108" y="120">Staging Area</text><text class="ta" x="1241.8" y="120">1.0 ha</text>
<text class="tl" x="1108" y="156">Truck Terminal</text><text class="ta" x="1241.8" y="156">1.2 ha</text>
<text class="tl" x="1108" y="191">Parking &amp;</text><text class="tl" x="1108" y="207">Circulation</text><text class="ta" x="1241.8" y="199">1.0 ha</text>
<text class="tl" x="1108" y="234">Admin &amp; Driver</text><text class="tl" x="1108" y="250">Rest</text><text class="ta" x="1241.8" y="242">0.4 ha</text>
<text class="tl" x="1108" y="283">Green &amp;</text><text class="tl" x="1108" y="299">Utilities</text><text class="ta" x="1241.8" y="291">0.4 ha</text>
<text class="tl" x="1108" y="332">Future</text><text class="tl" x="1108" y="349">Use/Buffer</text><text class="ta" x="1241.8" y="340">1.0 ha</text>
</g>

<g id="table-distribution">
<rect class="tbox" x="1074" y="362.7" width="287" height="26.3"/>
<text class="tt" x="1086" y="377" style="font-size:13.9px">Consolidation and Distribution Center</text>
<rect class="lc2" x="1075.5" y="390.7" width="135" height="23.6"/><rect class="lc2" x="1213" y="390.7" width="146.6" height="23.6"/>
<text class="tl" x="1109" y="408">Component</text><text class="tl" x="1255" y="408">Area (ha)</text>
<rect class="lc2" x="1075.5" y="417.3" width="135" height="49.4"/><rect class="rc2" x="1213" y="417.3" width="146.6" height="49.4"/>
<rect class="lc2" x="1075.5" y="470" width="135" height="36"/><rect class="rc2" x="1213" y="470" width="146.6" height="36"/>
<rect class="lc2" x="1075.5" y="509" width="135" height="49.3"/><rect class="rc2" x="1213" y="509" width="146.6" height="49.3"/>
<rect class="lc2" x="1075.5" y="561" width="135" height="50"/><rect class="rc2" x="1213" y="561" width="146.6" height="50"/>
<rect class="lc2" x="1075.5" y="614" width="135" height="32.7"/><rect class="rc2" x="1213" y="614" width="146.6" height="32.7"/>
<rect class="lc2" x="1075.5" y="650" width="135" height="38.3"/><rect class="rc2" x="1213" y="650" width="146.6" height="38.3"/>
<text class="tl" x="1109" y="439">Warehouse +</text><text class="tl" x="1109" y="457">Sorting Zone</text><text class="ta" x="1247.7" y="447">3.5 ha</text>
<text class="tl" x="1109" y="484">Truck &amp; LCV</text><text class="tl" x="1109" y="502">Bays</text><text class="ta" x="1247.7" y="493">1.5 ha</text>
<text class="tl" x="1109" y="530">Parking &amp;</text><text class="tl" x="1109" y="548">Circulation</text><text class="ta" x="1247.7" y="540">2.0 ha</text>
<text class="tl" x="1109" y="575">Admin &amp;</text><text class="tl" x="1109" y="592">Driver</text><text class="tl" x="1109" y="610">Facilities</text><text class="ta" x="1247.7" y="592">0.6 ha</text>
<text class="tl" x="1109" y="627">Green +</text><text class="tl" x="1109" y="645">Utilities</text><text class="ta" x="1247.7" y="636">0.5 ha</text>
<text class="tl" x="1109" y="665">Flexible/Futur</text><text class="tl" x="1109" y="682">e Use</text><text class="ta" x="1247.7" y="673">1.9 ha</text>
</g>

<g id="table-park">
<rect class="tbox" x="1077" y="698" width="283" height="26"/>
<text class="tt" x="1084" y="713" style="font-size:13.5px">Logistics Park 30ha</text>
<rect class="lc2" x="1077" y="726" width="136" height="18"/><rect class="lc2" x="1216" y="726" width="143" height="18"/>
<text class="tl" x="1112" y="740">Component</text><text class="tl" x="1275" y="740">Area (ha)</text>
<rect class="lc2" x="1077" y="746.7" width="136" height="37.3"/><rect class="rc2" x="1216" y="746.7" width="143" height="37.3"/>
<rect class="lc2" x="1077" y="786" width="136" height="18.3"/><rect class="rc2" x="1216" y="786" width="143" height="18.3"/>
<rect class="lc2" x="1077" y="806.7" width="136" height="37.3"/><rect class="rc2" x="1216" y="806.7" width="143" height="37.3"/>
<rect class="lc2" x="1077" y="846.7" width="136" height="56.6"/><rect class="rc2" x="1216" y="846.7" width="143" height="56.6"/>
<rect class="lc2" x="1077" y="906" width="136" height="38"/><rect class="rc2" x="1216" y="906" width="143" height="38"/>
<rect class="lc2" x="1077" y="946.7" width="136" height="37.3"/><rect class="rc2" x="1216" y="946.7" width="143" height="37.3"/>
<rect class="lc2" x="1077" y="986.7" width="136" height="37.3"/><rect class="rc2" x="1216" y="986.7" width="143" height="37.3"/>
<text class="tl" x="1077" y="771">Cargo Terminal</text><text class="ta" x="1251" y="771">4.5 ha</text>
<text class="tl" x="1077" y="800">Terminal Yard</text><text class="ta" x="1251" y="800">4.2 ha</text>
<text class="tl" x="1077" y="821">Rail Terminal +</text><text class="tl" x="1077" y="839">Siding</text><text class="ta" x="1251" y="831">4.8 ha</text>
<text class="tl" x="1077" y="871">Warehouse +</text><text class="tl" x="1077" y="889">Distribution Center</text><text class="ta" x="1251" y="881">6.0 ha</text>
<text class="tl" x="1077" y="930">Transport Center</text><text class="ta" x="1251" y="930">3.0 ha</text>
<text class="tl" x="1077" y="970">Roads &amp; Circulation</text><text class="ta" x="1251" y="970">4.5 ha</text>
<text class="tl" x="1077" y="1002">Green Buffer +</text><text class="tl" x="1077" y="1020">Utilities</text><text class="ta" x="1251" y="1010">3.0 ha</text>
</g>

<g id="notes">
<text class="side" x="1376" y="80">Transfers: A place where</text>
<text class="side" x="1376" y="103.3">small packages from</text>
<text class="side" x="1376" y="125">many vendors come</text>
<text class="side" x="1376" y="147.7">together before they</text>
<text class="side" x="1376" y="170">are sent out in a large</text>
<text class="side" x="1376" y="192.7">truck.</text>
<text class="side" x="1376" y="237.3">Outbound Freight</text>
<text class="side" x="1376" y="260.7">management</text>
<text class="side" x="1376" y="305.7">Truck Terminals: A place</text>
<text class="side" x="1376" y="329">where small packages</text>
<text class="side" x="1376" y="350.7">from many vendors</text>
<text class="side" x="1376" y="407.7">Transfers: Regional</text>
<text class="side" x="1376" y="430.7">Goods are transferred</text>
<text class="side" x="1376" y="452.3">into domestic LCV loads</text>
<text class="side" x="1376" y="497.7">Outbound Freight</text>
<text class="side" x="1376" y="521">management</text>
<text class="side" x="1376" y="565">Ware house: Storage</text>
<text class="side" x="1376" y="588.3">between the Supplier</text>
<text class="side" x="1376" y="610.7">and manufacturer.</text>
<text class="side" x="1376" y="656">Truck Bays:  Loading</text>
<text class="side" x="1376" y="677.7">and Unloading bays</text>
<text class="side" x="1376" y="760">Cargo Terminal</text>
<text class="side" x="1376" y="805">Terminal Yard</text>
<text class="side" x="1376" y="849.3">Rail Terminal</text>
<text class="side" x="1376" y="895">Transport Center</text>
<text class="side" x="1376" y="940">Warehouse +</text>
<text class="side" x="1376" y="962.7">Distribution Center</text>
</g>

<g id="footer">
<rect x="0" y="1109.3" width="1599" height="20.7" fill="#9c3f5f"/>
<rect x="0" y="1130" width="1599" height="2" fill="#e3bccb"/>
<text x="14" y="1126" font-size="25" font-weight="700" fill="#fff" textLength="587" lengthAdjust="spacingAndGlyphs" style="font-family:'Liberation Sans',sans-serif">07| PROPOSALS- FREIGHT MANAGEMENT</text>
<text x="1485" y="1125" font-size="18" font-weight="700" font-style="italic" fill="#fff" style="font-family:'Liberation Sans',sans-serif">PUT24441</text>
</g>
</svg>
